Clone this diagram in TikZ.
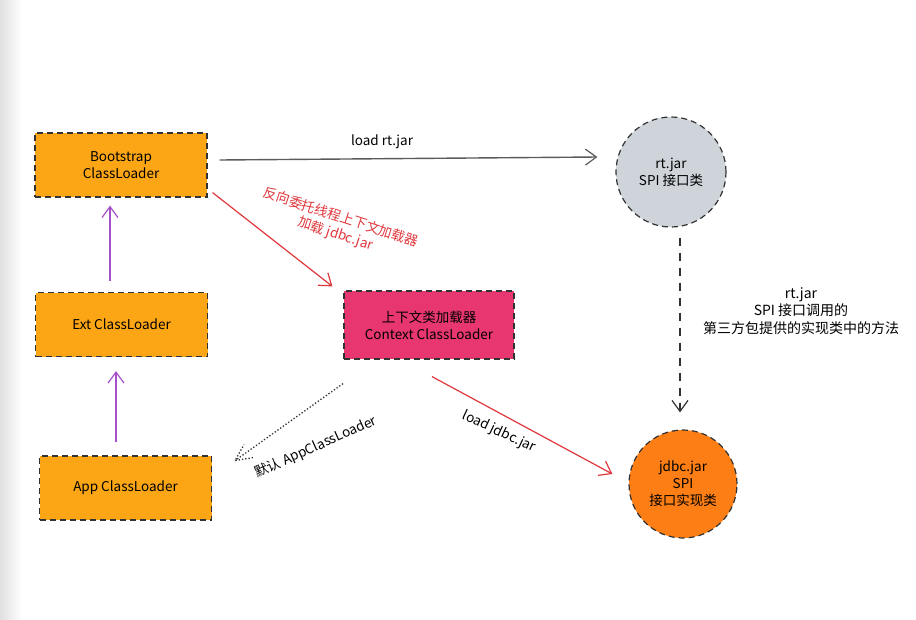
\documentclass[tikz,border=0pt]{standalone}
\usepackage{fontspec}
\setmainfont{Noto Sans CJK SC}
\usetikzlibrary{arrows.meta}
\definecolor{boxorange}{RGB}{252,166,22}
\definecolor{ctxpink}{RGB}{232,54,112}
\definecolor{spigray}{RGB}{206,212,218}
\definecolor{implorange}{RGB}{253,126,20}
\definecolor{edgedark}{RGB}{50,50,50}
\definecolor{delegpurple}{RGB}{165,80,200}
\definecolor{loadred}{RGB}{224,55,60}
\tikzset{
  txt/.style={font=\fontsize{13.5}{17}\selectfont, align=center},
  loaderbox/.style={txt, draw=edgedark, dash pattern=on 6pt off 4pt, line width=1.2pt,
    fill=boxorange, minimum width=172pt, minimum height=64pt},
  jarcircle/.style={txt, draw=edgedark, circle, dash pattern=on 6pt off 4pt, line width=1.2pt,
    minimum size=110pt, inner sep=0pt},
  barb/.style={-{Straight Barb[length=11pt,width=16pt,line width=1.2pt]}},
  parentlink/.style={barb, draw=delegpurple, line width=1.3pt},
  redlink/.style={barb, draw=loadred, line width=1.2pt},
}
\begin{document}
\begin{tikzpicture}[x=1pt, y=-1pt]
  % page and the soft grey strip at the left edge
  \fill[white] (0,0) rectangle (916,619);
  \shade[left color=black!12, right color=white] (0,0) rectangle (22,619);
  \useasboundingbox (0,0) rectangle (916,619);

  % class loaders
  \node[loaderbox] (boot) at (121,165) {Bootstrap\\ClassLoader};
  \node[loaderbox] (ext)  at (121.5,324.5) {Ext ClassLoader};
  \node[loaderbox] (app)  at (125.5,488) {App ClassLoader};
  \node[loaderbox, fill=ctxpink, minimum width=170pt, minimum height=68pt] (ctx) at (429,325)
    {上下文类加载器\\Context ClassLoader};

  % jars
  \node[jarcircle, fill=spigray] (rt) at (671,172) {rt.jar\\SPI 接口类};
  \node[jarcircle, fill=implorange, minimum size=108pt] (jdbc) at (683,484) {jdbc.jar\\SPI\\接口实现类};

  % parent delegation
  \draw[parentlink] ([shift={(0,-11)}]ext.north -| 110,0) -- ([shift={(0,8)}]boot.south -| 110,0);
  \draw[parentlink] ([shift={(0,-13)}]app.north -| 116,0) -- ([shift={(0,14)}]ext.south -| 116,0);

  % bootstrap loads rt.jar
  \draw[barb, draw=edgedark!80, line width=1.4pt] ([shift={(12,0)}]boot.east |- 0,160)
    -- ([shift={(-18,0)}]rt.west |- 0,157) node[pos=0.43, above=6pt, txt, text=black] (lrt) {load rt.jar};

  % reverse delegation to the context loader
  \draw[redlink] ([shift={(5,-5)}]boot.south east) -- ([shift={(-11,-4)}]ctx.north west);
  \node[txt, text=loadred, rotate=-18] (rev) at (338,226) {反向委托线程上下文加载器\\加载 jdbc.jar};

  % default application loader (dotted shaft and dotted barbs)
  \coordinate (d0) at ([shift={(-86,24)}]ctx.south);
  \coordinate (d1) at ([shift={(-194,101)}]ctx.south);
  \draw[dotted, line width=1.3pt, draw=edgedark] (d0) -- (d1);
  \draw[dotted, line width=1.3pt, draw=edgedark] ([shift={(18,-3)}]d1) -- (d1) -- ([shift={(9,-16)}]d1);
  \node[txt, rotate=24] (dflt) at (316,447) {默认 AppClassLoader};

  % context loader loads jdbc.jar
  \draw[redlink] ([shift={(3,17)}]ctx.south) -- ([shift={(-16,-10)}]jdbc.west);
  \node[txt, rotate=-25] (ljdbc) at (499,432) {load jdbc.jar};

  % SPI call into the implementation
  \draw[barb, dash pattern=on 8pt off 7pt, draw=edgedark, line width=1.2pt]
    ([shift={(0,10)}]rt.south -| 680,0) -- ([shift={(0,-17)}]jdbc.north -| 680,0);
  \node[txt, font=\fontsize{14}{17.5}\selectfont] (spinote) at (801,311)
    {rt.jar\\SPI 接口调用的\\第三方包提供的实现类中的方法};
\end{tikzpicture}
\end{document}
